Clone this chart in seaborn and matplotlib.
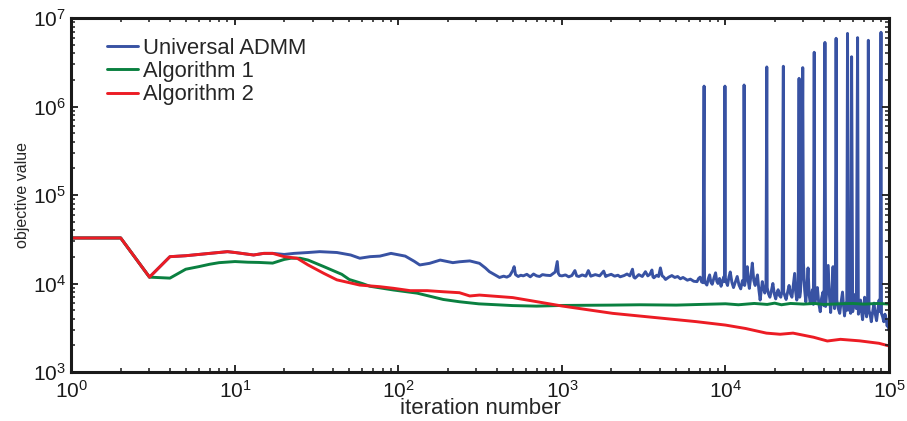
import numpy as np
import pandas as pd
import matplotlib
matplotlib.use("Agg")
import matplotlib.pyplot as plt
import seaborn as sns

# iteration numbers and objective values
admm_iter = [1, 2, 3, 4, 5, 7, 9, 10, 13, 15, 17, 20, 23, 28, 33, 42, 51, 58, 67, 77,
             90, 110, 125, 135, 155, 180, 215, 236, 273,
             313, 340, 360, 390, 415, 440, 460, 480, 500, 510, 520, 540, 560, 580, 610,
             640, 670, 700, 730, 760, 800, 850, 880, 910, 936, 950, 970, 1000, 1050, 1100,
             1150, 1200, 1230, 1270, 1330, 1400, 1450, 1500, 1600, 1700, 1800, 1850, 1900,
             2000, 2100, 2200, 2270, 2400, 2500, 2600, 2700, 2750, 2800, 2950, 3100, 3240,
             3350, 3450, 3550, 3600, 3650, 3800, 3900, 4000, 4100, 4200, 4300, 4500, 4700,
             4900, 5100, 5300, 5500, 5850, 6100, 6400, 6700, 6850, 7000, 7150, 7300, 7400,
             7450, 7600, 7700, 7850, 8000, 8150, 8300, 8500, 8700, 8850, 9000, 9200, 9400,
             9600, 9800, 9880, 9930, 9980, 10150, 10300, 10500, 10700, 10950, 11200, 11500,
             11800, 12100, 12400, 12700, 12950, 13000, 13100, 13350, 13600, 13800, 14000,
             14300, 14600, 14900, 15200, 15450, 15700, 16000, 16300, 16550, 16800, 17100,
             17400, 17700, 17900, 18000, 18350, 18700, 19100, 19500, 19900, 20300, 20650,
             21000, 21400, 21800, 22200, 22600, 22700, 23100, 23500, 24000, 24500, 25000,
             25500, 26000, 26500, 26900, 27300, 27800, 28200, 28450, 28700, 29200, 29700,
             30000, 30500, 31000, 31500, 32000, 32500, 33000, 33500, 34000, 34500, 34900,
             35200, 35800, 36500, 37200, 38000, 38700, 39500, 40100, 40600, 41000, 41700,
             42500, 43200, 44000, 44800, 45500, 46000, 46500, 47000, 47500, 48000, 49000,
             50000, 51000, 52000, 52800, 53500, 54500, 55200, 55800, 56500, 57500, 58300,
             59100, 60000, 61000, 62000, 63200, 64300, 65000, 66000, 67000, 68000, 69000,
             70000, 71000, 72000, 73000, 74000, 74800, 75500, 76800, 78000, 79500, 81000,
             82500, 84000, 85500, 87000, 88300, 89400, 90000, 91500, 93000, 94500, 96000,
             97500, 98500, 100000]
admm_val = [32700, 32700, 11800, 20100, 20600, 21900, 22900, 22400, 21000, 21900, 21900,
            21300, 21900, 22400, 22900, 22400, 21000, 19300, 20100, 20400, 21900, 20400,
            17800, 16200, 16900, 18400, 17200, 17600, 18000,
            16900, 15000, 13600, 12500, 11700, 12100, 11800, 12300, 14000, 15500, 12600,
            12000, 12400, 12200, 12700, 11900, 12800, 12200, 12000, 12600, 12400, 12300,
            12900, 13500, 17700, 13000, 12300, 12200, 12500, 11900, 12300, 14000, 12200,
            12000, 12500, 12100, 14000, 12100, 12600, 12200, 13800, 12000, 12300, 12700,
            12100, 12400, 11900, 12300, 12800, 12200, 14500, 11800, 11500, 12600, 12000,
            13600, 12200, 12700, 14200, 11900, 11600, 12400, 12000, 15000, 12200, 11800,
            11100, 11800, 12300, 11700, 12000, 11300, 11700, 10900, 11200, 10600, 10500,
            11400, 11800, 10400, 10200, 1.7e6,
            10800, 9900, 9600, 11300, 12500, 10300, 9800, 11500, 13200, 10600, 10000,
            11400, 9300, 10800, 12000, 10500, 1.7e6, 11500, 10200, 9500, 11800, 13500,
            10300, 9000, 10400, 12000, 9600, 8700, 10800, 9800, 1.75e6, 9500, 12000, 15500,
            10500, 8800, 12000, 17000, 10800, 9500, 11200, 12500, 8600, 6500, 8200, 10500,
            8800, 7800, 9200, 2.8e6, 9000, 7600, 7000, 8300, 10000, 7600, 6700, 7800, 8500,
            7300, 7000, 8400, 2.85e6, 8000, 7200, 6600, 8000, 9500, 7600, 7000, 9500, 13000,
            8000, 6500, 7800, 2.08e6, 7000, 8000, 12000, 2.75e6, 17000, 8500, 6200, 9000,
            15000, 7500, 6000, 7200, 8500, 5800, 4.1e6, 6000, 7800, 9000, 6000, 4800, 6800,
            8000, 5600, 5.3e6, 5500, 9000, 16000, 7500, 4700, 8000, 15500, 6800, 5200, 7000,
            5.9e6, 6500, 5200, 4600, 6200, 8000, 5500, 4300, 6000, 5000, 6.7e6, 5000, 6500,
            4600, 3.65e6, 4800, 6000, 7500, 5200, 6.0e6, 4500, 5200, 6500, 4800, 3900, 5200,
            7000, 5000, 4200, 5500, 5.6e6, 5000, 4400, 3700, 4800, 6000, 4500, 3800, 5000,
            6500, 4800, 6.9e6, 4600, 4200, 3700, 4500, 4000, 3300, 3700, 2950]

alg1_iter = [1, 2, 3, 4, 5, 6, 7, 8, 10, 12, 14, 17, 20, 22, 25, 28, 35, 45, 50, 60, 67,
             93, 130, 188, 236, 310, 500, 700, 1000, 2000, 3000, 5000, 7000, 10000, 12000,
             15000, 18000, 20000, 22000, 25000, 30000, 35000, 40000, 50000, 60000, 70000,
             85000, 100000]
alg1_val = [32700, 32700, 11800, 11500, 14500, 15500, 16500, 17200, 17700, 17400, 17300,
            17000, 18700, 19300, 19300, 18400, 15500, 12700, 11100, 10000, 9300, 8450,
            7780, 6600, 6220, 5890, 5630, 5550, 5650, 5700, 5750, 5700, 5800, 5900, 5750,
            5950, 5800, 6000, 5750, 5950, 5850, 5950, 5800, 5900, 5950, 5850, 5950, 5870]

alg2_iter = [1, 2, 3, 4, 5, 7, 9, 10, 13, 15, 17, 20, 24, 28, 35, 42, 58, 77, 93, 118,
             150, 188, 236, 273, 313, 500, 803, 1000, 2040, 4150, 6600, 10000, 13300,
             17800, 21600, 25900, 34600, 42000, 50500, 66000, 87000, 100000]
alg2_val = [32700, 32700, 11800, 20100, 20600, 21900, 22900, 22400, 21000, 21900, 21900,
            20100, 19300, 16200, 13000, 11000, 9600, 9200, 8830, 8300, 8300, 8070, 7870,
            7230, 7400, 6930, 5970, 5570, 4600, 4040, 3710, 3390, 3100, 2750, 2670, 2750,
            2470, 2240, 2340, 2250, 2110, 1970]

labels = ["Universal ADMM", "Algorithm 1", "Algorithm 2"]
colors = ["#3852a3", "#0a8040", "#ec1c24"]

sns.set_style("ticks")
plt.rcParams["font.family"] = ["Liberation Sans", "DejaVu Sans"]
plt.rcParams["mathtext.fontset"] = "custom"
plt.rcParams["mathtext.rm"] = "Liberation Sans"
plt.rcParams["mathtext.default"] = "regular"
# inward ticks on all four sides, set before the axes exist
plt.rcParams.update({
    "xtick.direction": "in", "ytick.direction": "in",
    "xtick.top": True, "ytick.right": True,
    "xtick.bottom": True, "ytick.left": True,
    "xtick.major.size": 5, "ytick.major.size": 5,
    "xtick.minor.size": 2.8, "ytick.minor.size": 2.8,
    "xtick.major.width": 1.3, "ytick.major.width": 1.3,
    "xtick.minor.width": 1.1, "ytick.minor.width": 1.1,
    "xtick.color": "#1a1a1a", "ytick.color": "#1a1a1a",
    "xtick.labelsize": 15, "ytick.labelsize": 15,
    "xtick.major.pad": 6, "ytick.major.pad": 4,
    "axes.axisbelow": False,
})

fig = plt.figure(figsize=(9.07, 4.21), dpi=100)
ax = fig.add_axes([0.0788, 0.1164, 0.9013, 0.8408])
ax.set_xscale("log")
ax.set_yscale("log")

series = [(admm_iter, admm_val), (alg1_iter, alg1_val), (alg2_iter, alg2_val)]
for (xs, ys), lab, col in zip(series, labels, colors):
    sns.lineplot(x=xs, y=ys, ax=ax, color=col, label=lab,
                 linewidth=2.1, estimator=None, sort=False)

ax.set_xlim(1, 1e5)
ax.set_ylim(1e3, 1e7)

for s in ax.spines.values():
    s.set_linewidth(2.2)
    s.set_color("#1a1a1a")

ax.set_xlabel("iteration number", fontsize=16, labelpad=-3)
ax.set_ylabel("objective value", fontsize=11.5, labelpad=2)

ax.legend(loc="upper left", bbox_to_anchor=(0.043, 0.944), frameon=False, fontsize=15.8,
          handlelength=1.45, handletextpad=0.2, labelspacing=0.1, borderpad=0,
          borderaxespad=0)

fig.savefig("out.png", dpi=100)
